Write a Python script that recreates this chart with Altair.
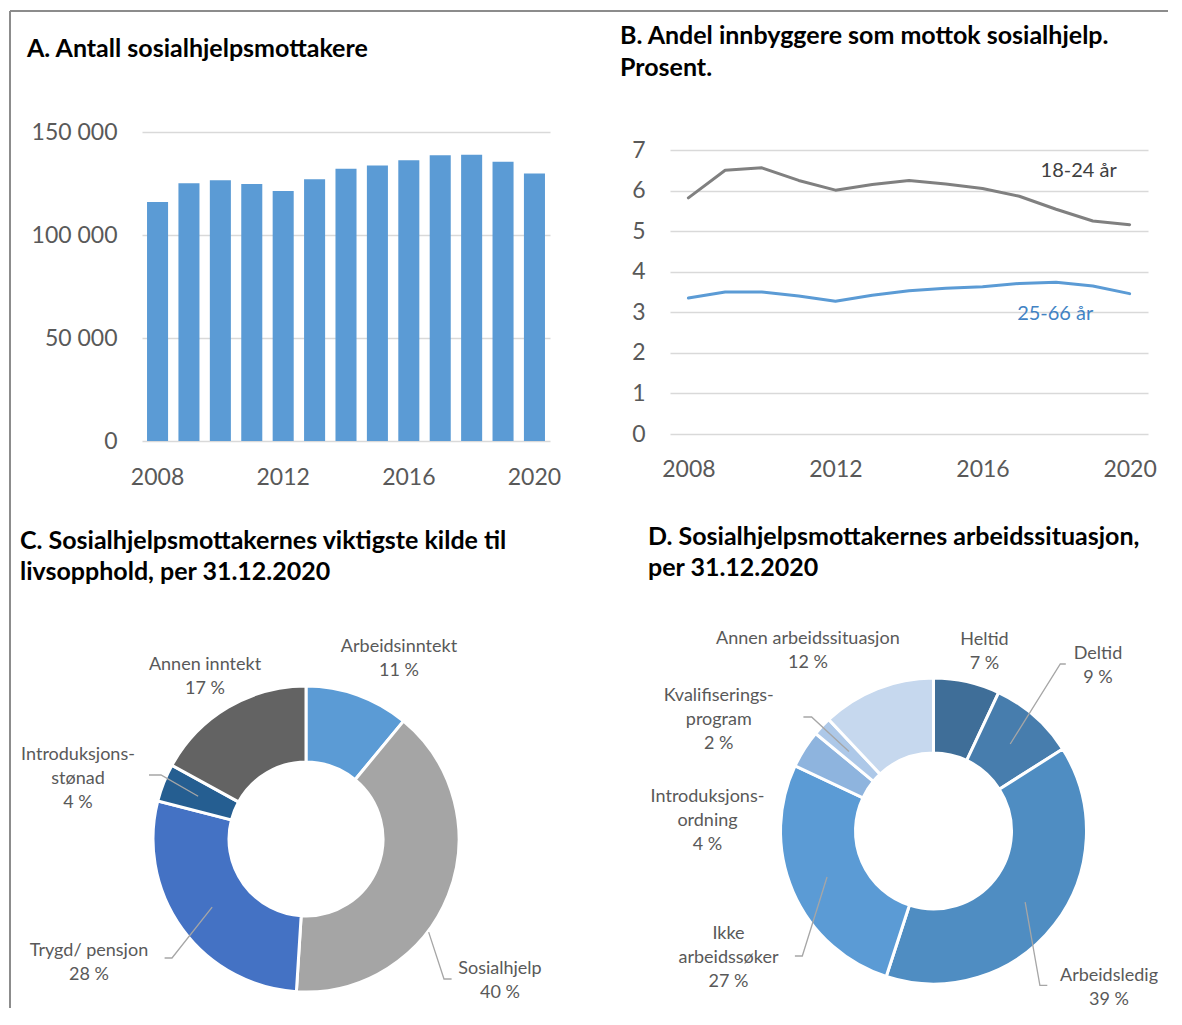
import math
import altair as alt
import pandas as pd

# ---------------- data ----------------
years = [2008, 2009, 2010, 2011, 2012, 2013, 2014, 2015, 2016, 2017, 2018, 2019, 2020]
mottakere = [116000, 125100, 126600, 124800, 121300, 127100, 132100,
             133700, 136300, 138700, 139000, 135500, 129800]
andel_18_24 = [5.82, 6.50, 6.56, 6.25, 6.01, 6.15, 6.25, 6.16, 6.05, 5.86, 5.54, 5.25, 5.16]
andel_25_66 = [3.35, 3.50, 3.50, 3.40, 3.27, 3.42, 3.53, 3.59, 3.63, 3.71, 3.74, 3.65, 3.46]
serier = ["18-24 år", "25-66 år"]
year_ticks = [2008, 2012, 2016, 2020]
a_ticks = [0, 50000, 100000, 150000]
b_ticks = [0, 1, 2, 3, 4, 5, 6, 7]

kilde_kat = ["Arbeidsinntekt", "Sosialhjelp", "Trygd/ pensjon", "Introduksjonsstønad", "Annen inntekt"]
kilde_andel = [11, 40, 28, 4, 17]
kilde_tekst = ["Arbeidsinntekt\n11 %", "Sosialhjelp\n40 %", "Trygd/ pensjon\n28 %",
               "Introduksjons-\nstønad\n4 %", "Annen inntekt\n17 %"]

arb_kat = ["Heltid", "Deltid", "Arbeidsledig", "Ikke arbeidssøker",
           "Introduksjonsordning", "Kvalifiseringsprogram", "Annen arbeidssituasjon"]
arb_andel = [7, 9, 39, 27, 4, 2, 12]
arb_tekst = ["Heltid\n7 %", "Deltid\n9 %", "Arbeidsledig\n39 %", "Ikke\narbeidssøker\n27 %",
             "Introduksjons-\nordning\n4 %", "Kvalifiserings-\nprogram\n2 %",
             "Annen arbeidssituasjon\n12 %"]

# ---------------- styles / layout ----------------
FONT = "Lato"
BAR = "#5B9BD5"
LINE_COLORS = ["#808080", "#5B9BD5"]
kilde_farge = ["#5B9BD5", "#A5A5A5", "#4472C4", "#255E91", "#636363"]
arb_farge = ["#3F6E98", "#477DAD", "#4F8DC2", "#5B9BD5", "#8EB4DE", "#ADC8E8", "#C6D8EE"]
BORDER = "#8C8C8C"
LEADER = "#A6A6A6"
LAB_LH = 24
TITLE_SIZE = 25

# label block centres relative to pie centre (px)
kilde_lab = [(93, -180.5), (194, 142), (-217, 123.5), (-228, -60), (-101, -162)]
arb_lab = [(51, -179.5), (164.5, -165.5), (175.5, 157), (-205, 126.5),
           (-226, -10), (-214.7, -111), (-125.6, -180)]
# leader lines: (segment, angle nudge, start radius, elbow, end)
kilde_lead = [(1, 15.6, 154, (138, 140), (145.6, 140)),
              (2, 0, 116, (-134, 119), (-141.4, 119)),
              (3, 0, 116, (-145, -64), (-157, -64))]
arb_lead = [(1, 0, 116, (126.8, -167), (132.3, -167)),
            (2, 0, 116, (106.4, 154.4), (113.8, 154.4)),
            (3, 0, 116, (-131.2, 125), (-138.6, 125)),
            (5, 0, 116, (-121.9, -114), (-130.1, -114))]


def title(lines, dx, offset, dy=0, lh=31.5):
    return alt.TitleParams(text=lines, anchor="start", frame="group", dx=dx, dy=dy,
                           offset=offset, font=FONT, fontSize=TITLE_SIZE, fontWeight="bold",
                           color="#000000", lineHeight=lh)


# ---------------- A ----------------
dfA = pd.DataFrame({"aar": years, "mottakere": mottakere})
barsA = alt.Chart(dfA).mark_bar(color=BAR).encode(
    x=alt.X("aar:O", scale=alt.Scale(paddingInner=0.33, paddingOuter=0.16),
            axis=alt.Axis(values=year_ticks, labelAngle=0, title=None, labelPadding=25)),
    y=alt.Y("mottakere:Q", scale=alt.Scale(domain=[0, 150000], nice=False),
            axis=alt.Axis(values=a_ticks, grid=True, title=None, labelPadding=25,
                          labelExpr="replace(format(datum.value, ','), ',', ' ')")),
)
one = pd.DataFrame({"k": [0]})
border_top = alt.Chart(one).mark_rule(color=BORDER, strokeWidth=2).encode(
    x=alt.value(-132), x2=alt.value(1026), y=alt.value(-121))
border_left = alt.Chart(one).mark_rule(color=BORDER, strokeWidth=2).encode(
    x=alt.value(-132), y=alt.value(-121), y2=alt.value(876))
panelA = alt.layer(barsA, border_top, border_left).properties(
    width=408, height=309,
    title=title("A. Antall sosialhjelpsmottakere", dx=-115, offset=0, dy=52))

# ---------------- B ----------------
dfB = pd.DataFrame({
    "aar": years * 2,
    "andel": andel_18_24 + andel_25_66,
    "serie": [serier[0]] * len(years) + [serier[1]] * len(years),
})
yB_max = 7 * 302 / 284
xB = alt.X("aar:Q", scale=alt.Scale(domain=[2007.5, 2020.5], nice=False, zero=False),
           axis=alt.Axis(values=year_ticks, format="d", grid=False, title=None,
                         labelPadding=24, labelFlush=False))
yB = alt.Y("andel:Q", scale=alt.Scale(domain=[0, yB_max], nice=False),
           axis=alt.Axis(values=b_ticks, format="d", grid=True, title=None, labelPadding=25))
linesB = alt.Chart(dfB).mark_line(strokeWidth=3, strokeJoin="round", strokeCap="round").encode(
    x=xB, y=yB,
    color=alt.Color("serie:N", scale=alt.Scale(domain=serier, range=LINE_COLORS), legend=None),
)
labB1 = alt.Chart(dfB).transform_filter(
    (alt.datum.aar == 2020) & (alt.datum.serie == serier[0])
).mark_text(dx=-51, dy=-53.6, fontSize=20, font=FONT, color="#404040").encode(
    x="aar:Q", y="andel:Q", text="serie:N")
labB2 = alt.Chart(dfB).transform_filter(
    (alt.datum.aar == 2020) & (alt.datum.serie == serier[1])
).mark_text(dx=-74.4, dy=19.9, fontSize=20, font=FONT, color="#4283C4").encode(
    x="aar:Q", y="andel:Q", text="serie:N")
panelB = alt.layer(linesB, labB1, labB2).properties(
    width=478, height=302,
    title=title(["B. Andel innbyggere som mottok sosialhjelp.", "Prosent."],
                dx=-50, offset=51, lh=32))


# ---------------- pies ----------------
def pie_panel(kat, andel, tekst, farger, lab, lead, width, height, xdom, ydom, inner, ttl):
    total = float(sum(andel))
    mids, cum = [], 0.0
    for v in andel:
        mids.append((cum + v / 2) / total * 360)
        cum += v
    df = pd.DataFrame({"kat": kat, "andel": andel, "idx": list(range(len(kat)))})
    xs = alt.Scale(domain=xdom, nice=False, zero=False)
    ys = alt.Scale(domain=ydom, nice=False, zero=False, reverse=True)
    arcs = alt.Chart(df).mark_arc(outerRadius=153, innerRadius=inner,
                                  stroke="white", strokeWidth=3).encode(
        theta=alt.Theta("andel:Q", stack=True),
        color=alt.Color("kat:N", scale=alt.Scale(domain=kat, range=farger), legend=None),
        order=alt.Order("idx:Q"),
        x=alt.XDatum(0, type="quantitative", scale=xs, axis=None),
        y=alt.YDatum(0, type="quantitative", scale=ys, axis=None),
    )
    # Vega places the first line of a multi-line label at y: shift block centre up
    first_y = [p[1] - (t.count("\n")) * LAB_LH / 2 for p, t in zip(lab, tekst)]
    lab_df = pd.DataFrame({"tekst": tekst,
                           "lx": [p[0] for p in lab],
                           "ly": first_y})
    labels = alt.Chart(lab_df).mark_text(
        font=FONT, fontSize=18, color="#595959", lineBreak="\n", lineHeight=LAB_LH,
        align="center", baseline="middle").encode(
        x=alt.X("lx:Q", scale=xs, axis=None),
        y=alt.Y("ly:Q", scale=ys, axis=None),
        text="tekst:N")
    rows = []
    for (i, da, r, elbow, end) in lead:
        a = math.radians(mids[i] + da)
        pts = [(r * math.sin(a), -r * math.cos(a)), elbow, end]
        for k, (px, py) in enumerate(pts):
            rows.append({"grp": kat[i], "ord": k, "lx": px, "ly": py})
    lead_df = pd.DataFrame(rows)
    leaders = alt.Chart(lead_df).mark_line(color=LEADER, strokeWidth=1.3).encode(
        x=alt.X("lx:Q", scale=xs, axis=None),
        y=alt.Y("ly:Q", scale=ys, axis=None),
        detail="grp:N", order="ord:Q")
    return alt.layer(arcs, leaders, labels).properties(width=width, height=height, title=ttl)


panelC = pie_panel(kilde_kat, kilde_andel, kilde_tekst, kilde_farge, kilde_lab, kilde_lead,
                   408, 312, [-164, 244], [-149, 163], 77,
                   title(["C. Sosialhjelpsmottakernes viktigste kilde til",
                          "livsopphold, per 31.12.2020"], dx=-122, offset=52.5))
panelD = pie_panel(arb_kat, arb_andel, arb_tekst, arb_farge, arb_lab, arb_lead,
                   478, 312, [-263.5, 214.5], [-141, 171], 78,
                   title(["D. Sosialhjelpsmottakernes arbeidssituasjon,",
                          "per 31.12.2020"], dx=-22, offset=49))

chart = alt.concat(
    panelA, panelB, panelC, panelD,
    columns=2, spacing={"row": 249, "column": 120}, bounds="flush",
).resolve_scale(
    color="independent"
).properties(
    padding={"left": 0, "top": 1, "right": 0, "bottom": 0},
).configure_view(
    stroke="transparent"
).configure_axis(
    labelFont=FONT, labelFontSize=23, labelColor="#595959",
    domain=False, ticks=False, gridColor="#D9D9D9", gridWidth=1.3,
)

chart.save("out.html", embed_options={"renderer": "svg", "actions": False})
